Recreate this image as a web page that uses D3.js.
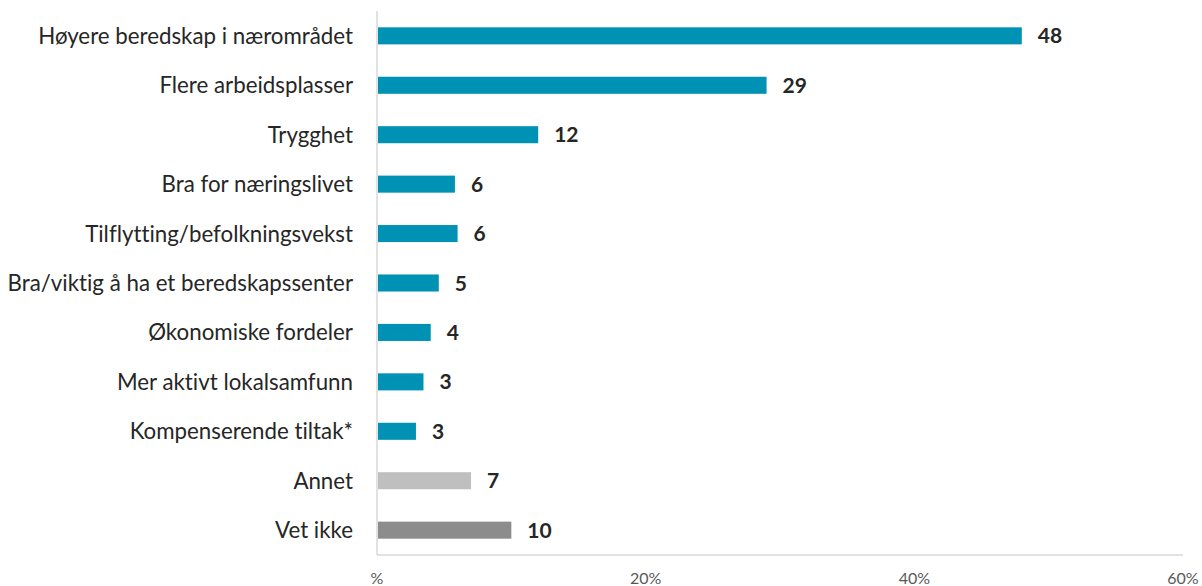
<!DOCTYPE html>
<html>
<head>
<meta charset="utf-8">
<script src="https://cdn.jsdelivr.net/npm/d3@7"></script>
<style>
  body { margin: 0; background: #fff; }
  svg { display: block; font-family: Lato, "Open Sans", sans-serif; font-variant-ligatures: none; }
</style>
</head>
<body>
<div id="chart"></div>
<script>
const categories = [
  'Høyere beredskap i nærområdet',
  'Flere arbeidsplasser',
  'Trygghet',
  'Bra for næringslivet',
  'Tilflytting/befolkningsvekst',
  'Bra/viktig å ha et beredskapssenter',
  'Økonomiske fordeler',
  'Mer aktivt lokalsamfunn',
  'Kompenserende tiltak*',
  'Annet',
  'Vet ikke'
];
const values = [48.0, 29.0, 12.0, 5.8, 6.0, 4.6, 4.0, 3.46, 2.9, 7.0, 10.0];
const barColors = ['#0092b4', '#0092b4', '#0092b4', '#0092b4', '#0092b4', '#0092b4',
  '#0092b4', '#0092b4', '#0092b4', '#bfbfbf', '#8c8c8c'];
const xTicks = [0, 20, 40, 60];

const width = 1202;
const height = 586;
const margin = { top: 11, right: 19, bottom: 31, left: 377 };
const innerW = width - margin.left - margin.right;
const innerH = height - margin.top - margin.bottom;

const svg = d3.select('#chart')
  .append('svg')
  .attr('width', width)
  .attr('height', height);

const g = svg.append('g')
  .attr('transform', `translate(${margin.left},${margin.top})`);

const x = d3.scaleLinear().domain([0, 60]).range([0, innerW]);
const y = d3.scaleBand()
  .domain(categories)
  .range([0, innerH])
  .paddingInner(0.655)
  .paddingOuter(0.33);

const data = categories.map((c, i) => ({ cat: c, value: values[i], color: barColors[i] }));

// axis lines
g.append('line')
  .attr('x1', 0).attr('x2', 0)
  .attr('y1', 0).attr('y2', innerH)
  .attr('stroke', '#d9d9d9').attr('stroke-width', 1.5);
g.append('line')
  .attr('x1', 0).attr('x2', innerW)
  .attr('y1', innerH).attr('y2', innerH)
  .attr('stroke', '#d9d9d9').attr('stroke-width', 1.5);

g.selectAll('.bar')
  .data(data)
  .enter().append('rect')
  .attr('class', 'bar')
  .attr('x', 1)
  .attr('y', d => y(d.cat))
  .attr('width', d => x(d.value) - 1)
  .attr('height', y.bandwidth())
  .attr('fill', d => d.color);

g.selectAll('.val')
  .data(data)
  .enter().append('text')
  .attr('class', 'val')
  .attr('x', d => x(d.value) + 16)
  .attr('y', d => y(d.cat) + y.bandwidth() / 2)
  .attr('dy', '0.36em')
  .attr('font-size', 21)
  .attr('font-weight', 'bold')
  .attr('fill', '#262626')
  .text(d => Math.round(d.value));

g.selectAll('.cat')
  .data(data)
  .enter().append('text')
  .attr('class', 'cat')
  .attr('x', -24)
  .attr('y', d => y(d.cat) + y.bandwidth() / 2)
  .attr('dy', '0.36em')
  .attr('text-anchor', 'end')
  .attr('font-size', 22.3)
  .attr('fill', '#262626')
  .text(d => d.cat);

g.selectAll('.tick-label')
  .data(xTicks)
  .enter().append('text')
  .attr('class', 'tick-label')
  .attr('x', d => x(d))
  .attr('y', innerH + 23)
  .attr('dy', '0.36em')
  .attr('text-anchor', 'middle')
  .attr('font-size', 16)
  .attr('fill', '#595959')
  .text(d => d === 0 ? '%' : d + '%');
</script>
</body>
</html>
